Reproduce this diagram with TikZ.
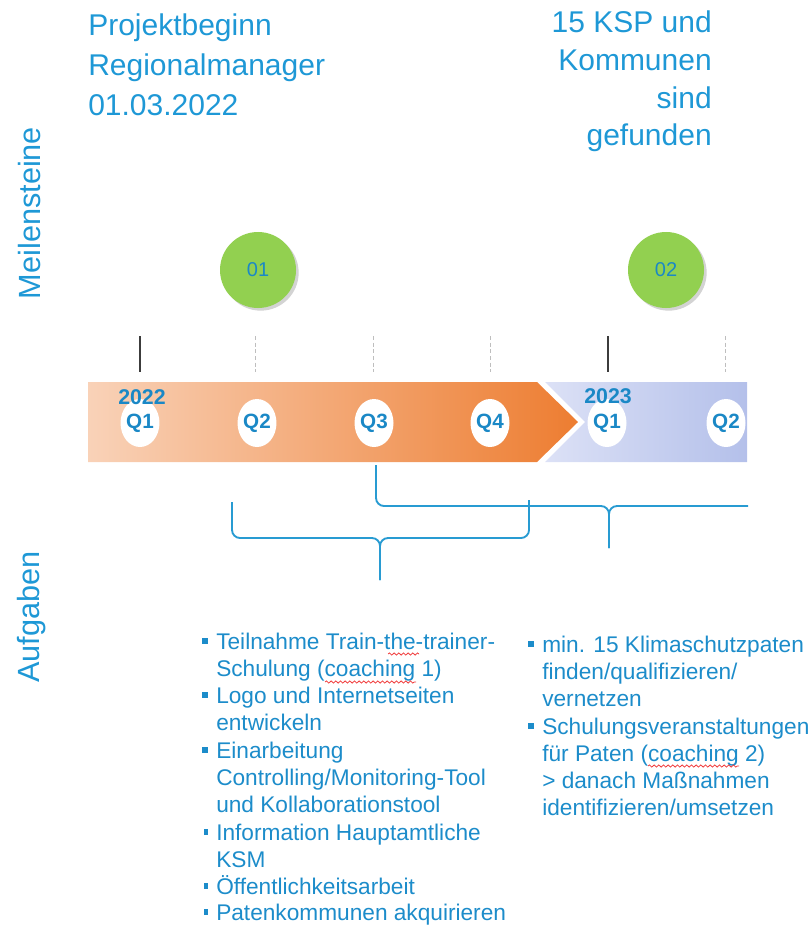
\documentclass[tikz,border=0pt]{standalone}
\usepackage{fontspec}
\setmainfont{Liberation Sans}
\usetikzlibrary{shapes.geometric,shadows,decorations.pathmorphing}
\definecolor{txtblue}{RGB}{30,152,214}
\definecolor{listblue}{RGB}{28,140,202}
\definecolor{qblue}{RGB}{26,136,198}
\definecolor{mgreen}{RGB}{146,208,80}
\definecolor{orL}{RGB}{249,210,184}
\definecolor{orR}{RGB}{237,125,49}
\definecolor{blL}{RGB}{220,225,246}
\definecolor{blR}{RGB}{180,192,234}
\definecolor{bracecol}{RGB}{40,155,210}
\definecolor{tickdark}{RGB}{60,60,60}
\definecolor{tickgrey}{RGB}{190,190,190}
\definecolor{spellred}{RGB}{240,60,60}
\begin{document}
\begin{tikzpicture}[x=0.75pt,y=-0.75pt,
  titletext/.style={font=\fontsize{22.5}{30}\selectfont, text=txtblue, inner sep=0pt},
  sidetext/.style={font=\fontsize{23}{27}\selectfont, text=txtblue, rotate=90, inner sep=0pt},
  milestone/.style={circle, fill=mgreen, minimum size=57pt, inner sep=0pt,
    drop shadow={opacity=0.35, shadow xshift=2pt, shadow yshift=-2pt},
    font=\fontsize{15}{18}\selectfont, text=qblue},
  qell/.style={ellipse, fill=white, minimum width=28.5pt, minimum height=36pt, inner sep=0pt,
    font=\bfseries\fontsize{15.5}{18}\selectfont, text=qblue},
  yeartext/.style={font=\bfseries\fontsize{16}{18}\selectfont, text=qblue, inner sep=0pt},
  listtext/.style={font=\fontsize{17}{20.25}\selectfont, text=listblue, align=left, inner sep=0pt},
  tickmain/.style={draw=tickdark, line width=1pt},
  tickminor/.style={draw=tickgrey, line width=0.7pt, dash pattern=on 3pt off 2pt},
  bracket/.style={draw=bracecol, line width=1.4pt, rounded corners=6pt},
  spell/.style={draw=spellred, line width=0.6pt, decorate,
    decoration={snake, amplitude=0.8pt, segment length=3.5pt}},
  bulletbox/.style={fill=listblue}
]
\useasboundingbox (0,0) rectangle (812,927);

% milestone titles (anchor = baseline of last line)
\node[titletext, anchor=base west, align=left] (t1) at (88,116)
  {Projektbeginn\\Regionalmanager\\01.03.2022};
\node[titletext, anchor=base east, align=right, font=\fontsize{22.5}{28.3}\selectfont] (t2) at (712,146)
  {15 KSP und\\Kommunen\\sind\\gefunden};

% side labels
\node[sidetext] (meil) at (30,213) {Meilensteine};
\node[sidetext] (aufg) at (32,617) {Aufgaben};

% milestone circles
\node[milestone] (m1) at (258,270) {01};
\node[milestone] (m2) at (666,270) {02};

% ticks
\draw[tickmain] (140,336) -- (140,372);
\draw[tickmain] (608,336) -- (608,372);
\foreach \x in {255,373,490,725} \draw[tickminor] (\x,336) -- (\x,372);

% band
\shade[left color=orL, right color=orR] (88,382) -- (537,382) -- (578,422) -- (537,462) -- (88,462) -- cycle;
\shade[left color=blL, right color=blR] (545,382) -- (747,382) -- (747,462) -- (545,462) -- (585,422) -- cycle;

% quarters
\node[qell] (q1) at (140,423) {Q1};
\node[qell] (q2) at (257,423) {Q2};
\node[qell] (q3) at (374,423) {Q3};
\node[qell] (q4) at (490,423) {Q4};
\node[qell] (q5) at (607,423) {Q1};
\node[qell] (q6) at (726,423) {Q2};
\node[yeartext] (y1) at (142,397) {2022};
\node[yeartext] (y2) at (608,396) {2023};

% braces
\draw[bracket] (232,502) -- (232,538) -- (380,538) -- (380,580);
\draw[bracket] (529,500) -- (529,538) -- (380,538) -- (380,580);
\draw[bracket] (376,465) -- (376,506) -- (609,506) -- (609,548);
\draw[bracket] (748,506) -- (609,506) -- (609,548);

% left task list (anchor = baseline of last line)
\node[listtext, anchor=base west] (a1) at (216,676) {Teilnahme Train-the-trainer-\\Schulung (coaching 1)};
\node[listtext, anchor=base west] (a2) at (216,730) {Logo und Internetseiten\\entwickeln};
\node[listtext, anchor=base west] (a3) at (216,812) {Einarbeitung\\Controlling/Monitoring-Tool\\und Kollaborationstool};
\node[listtext, anchor=base west] (a4) at (216,867) {Information Hauptamtliche\\KSM};
\node[listtext, anchor=base west] (a5) at (216,894) {Öffentlichkeitsarbeit};
\node[listtext, anchor=base west] (a6) at (216,920) {Patenkommunen akquirieren};
\fill[bulletbox] (202,638) rectangle (208,644);
\fill[bulletbox] (202,692) rectangle (208,698);
\fill[bulletbox] (202,747) rectangle (208,753);
\fill[bulletbox] (204,829) rectangle (208,835);
\fill[bulletbox] (204,883) rectangle (208,889);
\fill[bulletbox] (204,909) rectangle (208,915);

% right task list
\node[listtext, anchor=base west] (b1) at (542,706) {min. 15 Klimaschutzpaten\\finden/qualifizieren/\\vernetzen};
\node[listtext, anchor=base west] (b2) at (542,815) {Schulungsveranstaltungen\\für Paten (coaching 2)\\> danach Maßnahmen\\identifizieren/umsetzen};
\fill[bulletbox] (528,641) rectangle (534,647);
\fill[bulletbox] (528,723) rectangle (534,729);

% spell-check marks
\draw[spell] (388,654) -- (419,654);
\draw[spell] (325,682) -- (416,682);
\draw[spell] (648,766) -- (739,766);
\end{tikzpicture}
\end{document}
